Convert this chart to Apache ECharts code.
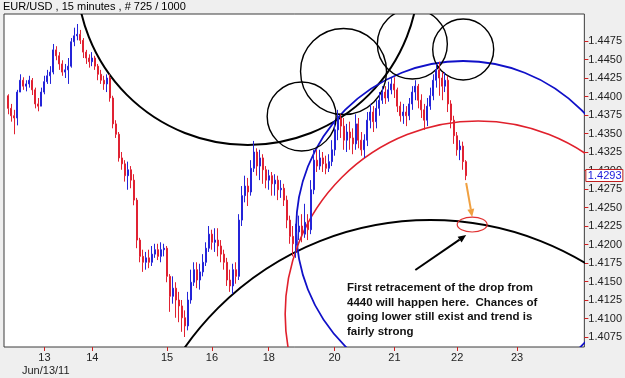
<!DOCTYPE html>
<html>
<head>
<meta charset="utf-8">
<script src="https://cdn.jsdelivr.net/npm/echarts@6/dist/echarts.min.js"></script>
<style>
html, body { margin: 0; padding: 0; background: #efefef; }
#chart { width: 625px; height: 378px; }
</style>
</head>
<body>
<div id="chart"></div>
<script>
// EUR/USD 15 min (one bar per ~3px)
var open = [1.4401,1.4384,1.4374,1.4371,1.4406,1.4422,1.4414,1.4417,1.4422,1.4409,1.4390,1.4387,1.4406,1.4420,1.4428,1.4433,1.4463,1.4455,1.4444,1.4433,1.4436,1.4441,1.4474,1.4482,1.4484,1.4476,1.4460,1.4452,1.4447,1.4452,1.4441,1.4430,1.4422,1.4417,1.4425,1.4398,1.4363,1.4349,1.4317,1.4309,1.4293,1.4301,1.4287,1.4260,1.4206,1.4184,1.4176,1.4182,1.4176,1.4187,1.4193,1.4184,1.4193,1.4195,1.4157,1.4130,1.4141,1.4125,1.4117,1.4101,1.4090,1.4125,1.4149,1.4166,1.4152,1.4163,1.4176,1.4195,1.4214,1.4203,1.4206,1.4198,1.4187,1.4176,1.4152,1.4144,1.4166,1.4157,1.4233,1.4266,1.4279,1.4271,1.4303,1.4325,1.4306,1.4317,1.4301,1.4287,1.4293,1.4282,1.4287,1.4274,1.4276,1.4260,1.4233,1.4211,1.4201,1.4217,1.4225,1.4214,1.4230,1.4220,1.4274,1.4314,1.4306,1.4317,1.4309,1.4303,1.4312,1.4328,1.4355,1.4371,1.4360,1.4341,1.4352,1.4344,1.4336,1.4363,1.4341,1.4328,1.4341,1.4368,1.4379,1.4366,1.4384,1.4395,1.4406,1.4398,1.4409,1.4417,1.4409,1.4387,1.4374,1.4379,1.4374,1.4390,1.4406,1.4414,1.4395,1.4382,1.4368,1.4387,1.4401,1.4422,1.4436,1.4425,1.4414,1.4422,1.4390,1.4368,1.4347,1.4328,1.4333,1.4312];
var close = [1.4384,1.4374,1.4371,1.4406,1.4422,1.4414,1.4417,1.4422,1.4409,1.4390,1.4387,1.4406,1.4420,1.4428,1.4433,1.4463,1.4455,1.4444,1.4433,1.4436,1.4441,1.4474,1.4482,1.4484,1.4476,1.4460,1.4452,1.4447,1.4452,1.4441,1.4430,1.4422,1.4417,1.4425,1.4398,1.4363,1.4349,1.4317,1.4309,1.4293,1.4301,1.4287,1.4260,1.4206,1.4184,1.4176,1.4182,1.4176,1.4187,1.4193,1.4184,1.4193,1.4195,1.4157,1.4130,1.4141,1.4125,1.4117,1.4101,1.4090,1.4125,1.4149,1.4166,1.4152,1.4163,1.4176,1.4195,1.4214,1.4203,1.4206,1.4198,1.4187,1.4176,1.4152,1.4144,1.4166,1.4157,1.4233,1.4266,1.4279,1.4271,1.4303,1.4325,1.4306,1.4317,1.4301,1.4287,1.4293,1.4282,1.4287,1.4274,1.4276,1.4260,1.4233,1.4211,1.4201,1.4217,1.4225,1.4214,1.4230,1.4220,1.4274,1.4314,1.4306,1.4317,1.4309,1.4303,1.4312,1.4328,1.4355,1.4371,1.4360,1.4341,1.4352,1.4344,1.4336,1.4363,1.4341,1.4328,1.4341,1.4368,1.4379,1.4366,1.4384,1.4395,1.4406,1.4398,1.4409,1.4417,1.4409,1.4387,1.4374,1.4379,1.4374,1.4390,1.4406,1.4414,1.4395,1.4382,1.4368,1.4387,1.4401,1.4422,1.4436,1.4425,1.4414,1.4422,1.4390,1.4368,1.4347,1.4328,1.4333,1.4312,1.4293];
var low = [1.4376,1.4366,1.4349,1.4361,1.4406,1.4409,1.4407,1.4412,1.4402,1.4384,1.4380,1.4387,1.4403,1.4417,1.4417,1.4430,1.4449,1.4436,1.4428,1.4425,1.4417,1.4439,1.4468,1.4476,1.4471,1.4452,1.4444,1.4439,1.4441,1.4436,1.4422,1.4417,1.4409,1.4406,1.4393,1.4357,1.4344,1.4312,1.4301,1.4285,1.4274,1.4276,1.4253,1.4195,1.4176,1.4163,1.4166,1.4168,1.4171,1.4182,1.4179,1.4176,1.4184,1.4149,1.4109,1.4120,1.4101,1.4095,1.4082,1.4075,1.4084,1.4120,1.4144,1.4141,1.4139,1.4157,1.4171,1.4190,1.4193,1.4190,1.4184,1.4176,1.4166,1.4144,1.4136,1.4133,1.4147,1.4152,1.4225,1.4257,1.4252,1.4266,1.4298,1.4293,1.4287,1.4282,1.4276,1.4274,1.4266,1.4266,1.4260,1.4263,1.4252,1.4222,1.4201,1.4184,1.4182,1.4206,1.4203,1.4209,1.4206,1.4214,1.4268,1.4298,1.4301,1.4298,1.4295,1.4298,1.4306,1.4320,1.4341,1.4344,1.4328,1.4325,1.4328,1.4322,1.4328,1.4330,1.4320,1.4317,1.4333,1.4357,1.4352,1.4357,1.4374,1.4390,1.4390,1.4393,1.4403,1.4398,1.4379,1.4366,1.4363,1.4360,1.4368,1.4382,1.4395,1.4384,1.4371,1.4355,1.4360,1.4382,1.4395,1.4412,1.4401,1.4395,1.4406,1.4379,1.4357,1.4336,1.4320,1.4314,1.4301,1.4287];
var high = [1.4403,1.4390,1.4382,1.4409,1.4430,1.4426,1.4422,1.4428,1.4425,1.4412,1.4398,1.4412,1.4428,1.4436,1.4441,1.4471,1.4468,1.4460,1.4449,1.4444,1.4452,1.4479,1.4493,1.4498,1.4490,1.4479,1.4463,1.4457,1.4460,1.4455,1.4444,1.4436,1.4428,1.4430,1.4430,1.4401,1.4368,1.4352,1.4325,1.4314,1.4312,1.4306,1.4295,1.4263,1.4209,1.4193,1.4190,1.4193,1.4198,1.4201,1.4201,1.4203,1.4201,1.4198,1.4160,1.4157,1.4149,1.4136,1.4125,1.4111,1.4136,1.4166,1.4176,1.4176,1.4174,1.4187,1.4203,1.4225,1.4220,1.4222,1.4222,1.4206,1.4193,1.4182,1.4166,1.4174,1.4176,1.4241,1.4279,1.4293,1.4290,1.4314,1.4340,1.4330,1.4328,1.4322,1.4306,1.4301,1.4298,1.4295,1.4293,1.4287,1.4282,1.4266,1.4239,1.4225,1.4228,1.4239,1.4241,1.4255,1.4241,1.4287,1.4328,1.4328,1.4328,1.4325,1.4320,1.4322,1.4341,1.4366,1.4382,1.4376,1.4371,1.4363,1.4366,1.4357,1.4376,1.4371,1.4352,1.4349,1.4379,1.4390,1.4387,1.4395,1.4406,1.4414,1.4414,1.4420,1.4425,1.4426,1.4412,1.4393,1.4390,1.4387,1.4398,1.4414,1.4422,1.4417,1.4403,1.4390,1.4398,1.4412,1.4430,1.4444,1.4447,1.4433,1.4433,1.4428,1.4395,1.4374,1.4352,1.4341,1.4339,1.4314];
var firstBar = 1;
var slotCount = 194;

// day labels on the bar-index axis
var dayAt = [13, 29, 54, 69, 88, 110, 130, 151, 171];
var dayText = ['13', '14', '15', '16', '18', '20', '21', '22', '23'];

var priceTicks = [1.4075, 1.4100, 1.4125, 1.4150, 1.4175, 1.4200, 1.4225, 1.4250, 1.4275, 1.4300, 1.4325, 1.4350, 1.4375, 1.4400, 1.4425, 1.4450, 1.4475];
var priceMin = 1.40615, priceMax = 1.45115;

// drawn circles: centre (bar index, price), radius in price units
var circleX = [80.5, 141.5, 152.5, 158.2, 98.7, 112.7, 135.8, 153.3];
var circleY = [1.45656, 1.38277, 1.42223, 1.41061, 1.43730, 1.44338, 1.44710, 1.44635];
var circleR = [0.02311, 0.04054, 0.02257, 0.02608, 0.00466, 0.00581, 0.00473, 0.00412];
var circleKind = [0, 0, 1, 2, 3, 3, 3, 3];
var kindColor = ['#000000', '#1010c8', '#e0202c', '#000000'];
var kindWidth = [2, 1.8, 1.6, 1.4];

// arrows: from (x1, y1) to (x2, y2)
var arrowFrom = [[153.5, 1.42831], [136.8, 1.41656]];
var arrowTo = [[155.5, 1.42372], [153.5, 1.42128]];
var arrowColor = ['#f0a040', '#000000'];

// target ellipse: centre, half width (bars), half height (price)
var ringAt = [156.3, 1.42270, 4.2, 0.00101];

var note = 'First retracement of the drop from\n4440 will happen here.  Chances of\ngoing lower still exist and trend is\nfairly strong';

var font = 'Liberation Sans, Arial, sans-serif';

var slots = [], bars = [];
for (var i = 0; i < slotCount; i++) {
    slots.push(String(i));
    var k = i - firstBar;
    if (k >= 0 && k < open.length) bars.push([open[k], close[k], low[k], high[k]]);
    else bars.push('-');
}
var lastIndex = firstBar + close.length - 1;
var lastPrice = close[close.length - 1];

var circleData = circleX.map(function (x, j) {
    return [x, circleY[j], circleR[j], circleKind[j]];
});
var arrowData = arrowFrom.map(function (a, j) {
    return [a[0], a[1], arrowTo[j][0], arrowTo[j][1]];
});

function showDay(index) {
    return dayAt.indexOf(index) >= 0;
}

var myChart = echarts.init(document.getElementById('chart'));
var option = {
    animation: false,
    backgroundColor: '#efefef',
    title: {
        text: 'EUR/USD , 15 minutes , # 725 / 1000',
        left: 1, top: 0, padding: [1, 2],
        textStyle: {fontSize: 11, fontWeight: 'normal', color: '#000', fontFamily: font}
    },
    grid: {
        left: 4, right: 39, top: 14, bottom: 31,
        show: true, backgroundColor: '#fff', borderColor: '#3c3c3c', borderWidth: 1
    },
    xAxis: {
        type: 'category',
        data: slots,
        boundaryGap: true,
        axisLine: {show: false},
        axisTick: {show: true, interval: showDay, alignWithLabel: true, length: 4, lineStyle: {color: '#d02020'}},
        axisLabel: {
            interval: showDay, margin: 5, fontSize: 11, color: '#222', fontFamily: font,
            formatter: function (v, idx) {
                var j = dayAt.indexOf(idx);
                return j >= 0 ? dayText[j] : '';
            }
        },
        splitLine: {show: false}
    },
    yAxis: {
        type: 'value',
        position: 'right',
        min: priceMin, max: priceMax,
        axisLine: {show: false},
        splitLine: {show: false},
        axisTick: {show: true, length: 4, customValues: priceTicks, lineStyle: {color: '#d02020'}},
        axisLabel: {
            customValues: priceTicks, margin: 4, fontSize: 11, color: '#222', fontFamily: font,
            formatter: function (v) { return v.toFixed(4); }
        }
    },
    graphic: [
        {type: 'text', left: 22, top: 365, style: {text: 'Jun/13/11', fontSize: 11, fill: '#222', fontFamily: font}},
        {type: 'text', left: 347, top: 281, z: 100,
            style: {text: note, fontSize: 11.5, fontWeight: 'bold', lineHeight: 14.5, fill: '#111', fontFamily: font}}
    ],
    series: [
        {
            type: 'candlestick',
            data: bars,
            barWidth: 1.5,
            itemStyle: {
                color: '#2424d8', color0: '#e02232',
                borderColor: '#2424d8', borderColor0: '#e02232', borderWidth: 1
            }
        },
        {
            type: 'custom',
            clip: true,
            silent: true,
            data: circleData,
            encode: {x: 0, y: 1},
            renderItem: function (params, api) {
                var c = api.coord([api.value(0), api.value(1)]);
                var r = api.size([0, api.value(2)])[1];
                var kind = api.value(3);
                return {
                    type: 'circle',
                    shape: {cx: c[0], cy: c[1], r: r},
                    style: {fill: 'none', stroke: kindColor[kind], lineWidth: kindWidth[kind]}
                };
            }
        },
        {
            type: 'custom',
            clip: true,
            silent: true,
            z: 5,
            data: arrowData,
            encode: {x: [0, 2], y: [1, 3]},
            renderItem: function (params, api) {
                var a = api.coord([api.value(0), api.value(1)]);
                var b = api.coord([api.value(2), api.value(3)]);
                var col = arrowColor[params.dataIndex];
                var ang = Math.atan2(b[1] - a[1], b[0] - a[0]);
                var hl = 8, hw = 3.5;
                var bx = b[0] - hl * Math.cos(ang), by = b[1] - hl * Math.sin(ang);
                var px = -Math.sin(ang) * hw, py = Math.cos(ang) * hw;
                return {
                    type: 'group',
                    children: [
                        {type: 'line', shape: {x1: a[0], y1: a[1], x2: bx, y2: by}, style: {stroke: col, lineWidth: 2}},
                        {type: 'polygon', shape: {points: [[b[0], b[1]], [bx + px, by + py], [bx - px, by - py]]}, style: {fill: col}}
                    ]
                };
            }
        },
        {
            type: 'custom',
            clip: true,
            silent: true,
            z: 6,
            data: [ringAt],
            encode: {x: 0, y: 1},
            renderItem: function (params, api) {
                var c = api.coord([api.value(0), api.value(1)]);
                var e = api.coord([api.value(0) + api.value(2), api.value(1) + api.value(3)]);
                return {
                    type: 'ellipse',
                    shape: {cx: c[0], cy: c[1], rx: Math.abs(e[0] - c[0]), ry: Math.abs(e[1] - c[1])},
                    style: {fill: 'none', stroke: '#e03030', lineWidth: 1.2}
                };
            }
        },
        {
            // last price tag on the right axis
            type: 'custom',
            clip: false,
            silent: true,
            z: 20,
            data: [[lastIndex, lastPrice]],
            encode: {x: 0, y: 1},
            renderItem: function (params, api) {
                var c = api.coord([api.value(0), api.value(1)]);
                var right = params.coordSys.x + params.coordSys.width;
                var y = Math.round(c[1]);
                return {
                    type: 'group',
                    children: [
                        {type: 'rect', shape: {x: right + 1.5, y: y - 6.5, width: 37, height: 12},
                            style: {fill: '#fff', stroke: '#c02020', lineWidth: 1}},
                        {type: 'text', x: right + 3.5, y: y,
                            style: {text: api.value(1).toFixed(4), fontSize: 11, fontFamily: font, fill: '#1a1adc', verticalAlign: 'middle'}}
                    ]
                };
            }
        }
    ]
};
myChart.setOption(option);
</script>
</body>
</html>
